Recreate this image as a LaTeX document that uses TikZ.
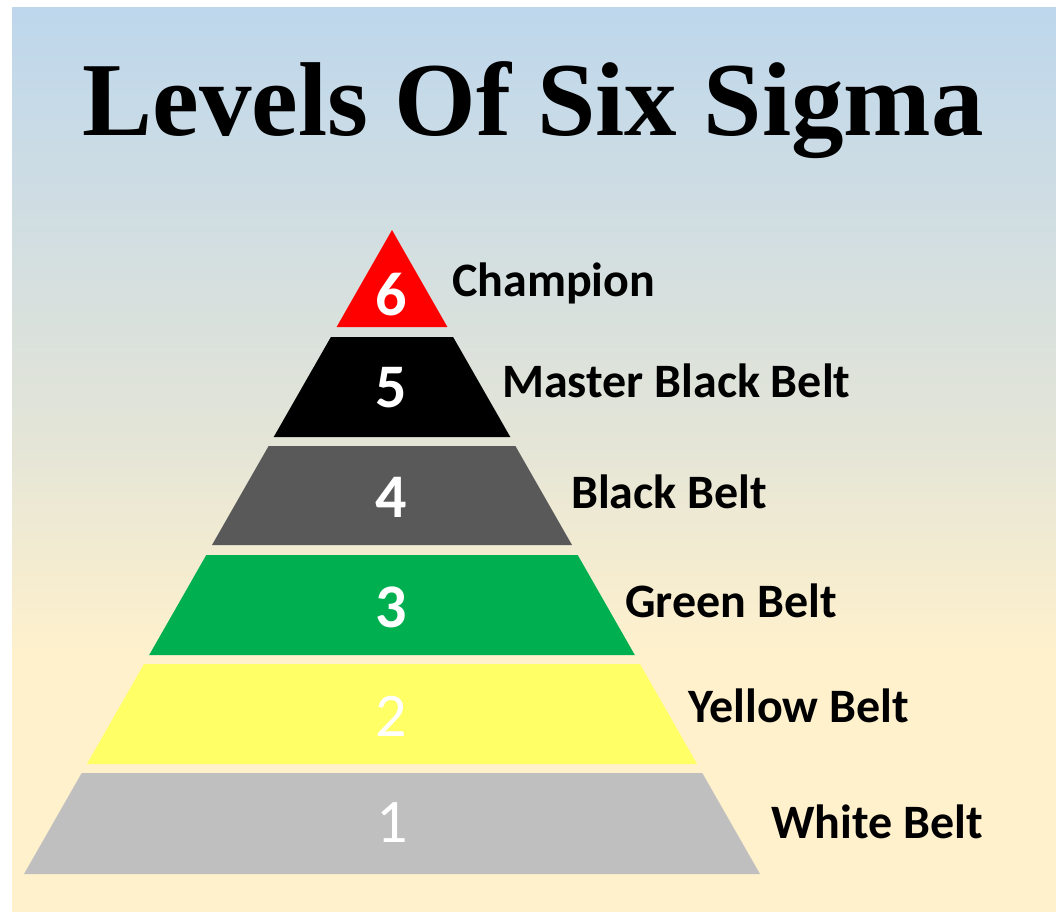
\documentclass[tikz,border=0pt]{standalone}
\usepackage{fontspec}
\setmainfont{Carlito}
\newfontfamily\titlefont{Liberation Serif}
\definecolor{bgtop}{HTML}{BED7EC}
\definecolor{bgmid}{HTML}{E2E4D8}
\definecolor{bgbot}{HTML}{FFF1CC}
\definecolor{lvsix}{HTML}{FF0000}
\definecolor{lvfive}{HTML}{000000}
\definecolor{lvfour}{HTML}{595959}
\definecolor{lvthree}{HTML}{00B050}
\definecolor{lvtwo}{HTML}{FFFF66}
\definecolor{lvone}{HTML}{BFBFBF}
\pgfdeclareverticalshading{bgshade}{100bp}{color(0bp)=(bgbot); color(39bp)=(bgbot); color(52bp)=(bgmid); color(75bp)=(bgtop); color(100bp)=(bgtop)}
\tikzset{
  numbold/.style={text=white, font=\fontsize{62}{62}\selectfont\bfseries, anchor=base, inner sep=0pt},
  numreg/.style={text=white, font=\fontsize{62}{62}\selectfont, anchor=base, inner sep=0pt},
  lvlabel/.style={text=black, font=\fontsize{48}{48}\selectfont\bfseries, anchor=base west, inner sep=0pt},
}
\begin{document}
\begin{tikzpicture}[x=1pt,y=-1pt]
\useasboundingbox (0,0) rectangle (1056,911);
\fill[white] (0,0) rectangle (1056,911);
\shade[shading=bgshade] (12,7) rectangle (1056,911);
% layers
\fill[lvsix] (392,230) -- (447.4,327) -- (336.6,327) -- cycle;
\fill[lvfive] (330.9,337) -- (453.1,337) -- (510.3,437) -- (273.7,437) -- cycle;
\fill[lvfour] (268.6,446) -- (515.4,446) -- (572,545) -- (212,545) -- cycle;
\fill[lvthree] (206.3,555) -- (577.7,555) -- (634.8,655) -- (149.2,655) -- cycle;
\fill[lvtwo] (144,664) -- (640,664) -- (697.1,764) -- (86.9,764) -- cycle;
\fill[lvone] (81.7,773) -- (702.3,773) -- (760,874) -- (24,874) -- cycle;
% title
\node[anchor=base, inner sep=0pt, font=\titlefont\fontsize{105}{105}\selectfont\bfseries] (title) at (533,135) {Levels Of Six Sigma};
% numbers
\node[numbold] (n6) at (391,315) {6};
\node[numbold] (n5) at (391,407) {5};
\node[numbold] (n4) at (391,517) {4};
\node[numbold] (n3) at (391,627) {3};
\node[numreg] (n2) at (391,736) {2};
\node[numreg] (n1) at (392,842) {1};
% labels
\node[lvlabel] (l6) at (452,296) {Champion};
\node[lvlabel] (l5) at (502,397) {Master Black Belt};
\node[lvlabel] (l4) at (571,508) {Black Belt};
\node[lvlabel] (l3) at (625,617) {Green Belt};
\node[lvlabel] (l2) at (688,722) {Yellow Belt};
\node[lvlabel] (l1) at (771,838) {White Belt};
\end{tikzpicture}
\end{document}
